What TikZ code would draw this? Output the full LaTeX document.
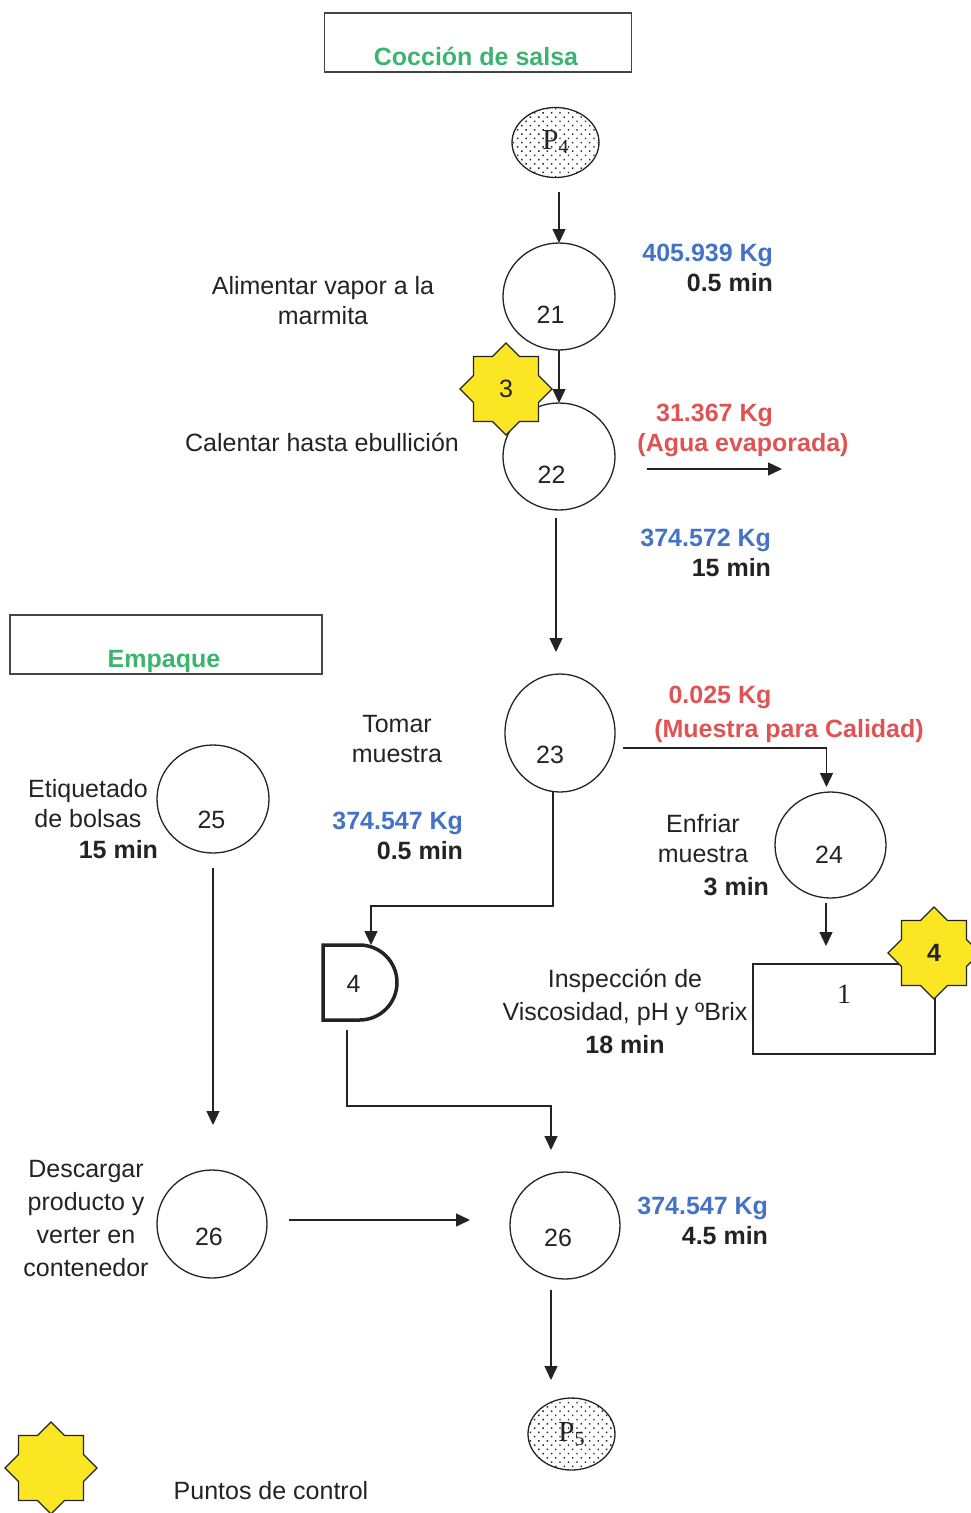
\documentclass[tikz,border=0pt]{standalone}
\usepackage{fontspec}
\setmainfont{Liberation Sans}
\newfontfamily\serifface{Liberation Serif}
\usetikzlibrary{arrows.meta,shapes.geometric,patterns.meta}

\definecolor{ink}{RGB}{35,35,35}
\definecolor{titlegreen}{RGB}{60,180,110}
\definecolor{massblue}{RGB}{68,114,196}
\definecolor{lossred}{RGB}{222,84,84}
\definecolor{ctrlyellow}{RGB}{250,230,35}

\begin{document}
\begin{tikzpicture}[x=1pt,y=-1pt,
  every node/.style={inner sep=0pt, outer sep=0pt, text=ink,
    font=\fontsize{25}{30}\selectfont},
  txt/.style={anchor=base},
  bold/.style={font=\fontsize{25}{30}\selectfont\bfseries},
  block/.style={anchor=north, align=center},
  rblock/.style={anchor=north east, align=right, bold},
  proc/.style={ellipse, draw=ink, line width=1.3pt, minimum width=111pt, minimum height=107pt},
  term/.style={ellipse, draw=ink, line width=1.3pt,
    pattern={Dots[distance=6pt, radius=1pt, angle=45]}, pattern color=ink,
    minimum width=87pt, minimum height=70pt, font=\fontsize{29}{29}\selectfont\serifface},
  frame/.style={rectangle, draw=ink!85, line width=1.3pt, minimum height=59pt},
  title/.style={anchor=base, text=titlegreen, bold},
  ctrl/.style={star, star points=8, star point ratio=1.307, draw=ink, line width=1.3pt,
    fill=ctrlyellow, minimum size=92pt},
  arr/.style={draw=ink, line width=1.4pt, -{Triangle[length=14pt, width=13pt]}},
]
\useasboundingbox (0,0) rectangle (970,1513);

% section frames
\node[frame, minimum width=307pt] (fr1) at (478,42.5) {};
\node[title] (ti1) at (476,65.5) {Cocción de salsa};
\node[frame, minimum width=312pt] (fr2) at (166,644.5) {};
\node[title] (ti2) at (164,667) {Empaque};

% start and end terminals
\node[term] (P4) at (555.5,142.5) {P\raisebox{-4pt}{\fontsize{20}{20}\selectfont 4}};
\node[term, minimum height=72pt] (P5) at (571.5,1434) {P\raisebox{-4pt}{\fontsize{20}{20}\selectfont 5}};

% operations
\node[proc, minimum width=112pt] (c21) at (559,296.5) {};
\node[txt] (n21) at (550.5,323) {21};
\node[proc, minimum width=112pt] (c22) at (559,456.5) {};
\node[txt] (n22) at (551.5,483) {22};
\node[proc, minimum width=110pt, minimum height=118pt] (c23) at (560,733) {};
\node[txt] (n23) at (550,763) {23};
\node[proc, minimum height=106pt] (c24) at (830.5,845) {};
\node[txt] (n24) at (829,863) {24};
\node[proc, minimum width=112pt, minimum height=108pt] (c25) at (213,799) {};
\node[txt] (n25) at (211.5,828) {25};
\node[proc, minimum width=110pt, minimum height=108pt] (c26a) at (212,1224) {};
\node[txt] (n26a) at (209,1245) {26};
\node[proc, minimum width=110pt] (c26b) at (565,1225.5) {};
\node[txt] (n26b) at (558,1246) {26};

% inspection
\node[rectangle, draw=ink, line width=1.3pt, minimum width=182pt, minimum height=90pt] (insp) at (844,1009) {};
\node[txt, font=\fontsize{28}{28}\selectfont\serifface] (n1) at (844,1003) {1};

% storage / delay
\node[minimum width=74pt, minimum height=75pt] (D) at (360,982.5) {};
\draw[ink, line width=3.5pt, line join=miter]
  (D.north west) -- ([xshift=-37.5pt]D.north east)
  arc[start angle=90, end angle=-90, radius=37.5pt] -- (D.south west) -- cycle;
\node[txt] (n4) at (353.5,992) {4};

% descriptions and figures
\node[rblock] (m21) at (773,244.5) {\textcolor{massblue}{405.939 Kg}\\0.5 min};
\node[block] (l21) at (323,276.5) {Alimentar vapor a la\\marmita};
\node[txt] (l22) at (322,451) {Calentar hasta ebullición};
\node[txt, bold, text=lossred] (w22a) at (714.5,421.5) {31.367 Kg};
\node[txt, bold, text=lossred] (w22b) at (743,451.5) {(Agua evaporada)};
\node[rblock] (m22) at (771,529.5) {\textcolor{massblue}{374.572 Kg}\\15 min};
\node[block] (l23) at (397,715.5) {Tomar\\muestra};
\node[txt, bold, text=lossred] (w23a) at (720,703) {0.025 Kg};
\node[txt, bold, text=lossred] (w23b) at (789,737) {(Muestra para Calidad)};
\node[rblock] (m23) at (463,812.5) {\textcolor{massblue}{374.547 Kg}\\0.5 min};
\node[block] (l24) at (703,814.5) {Enfriar\\muestra};
\node[txt, bold, anchor=base east] (t24) at (769,895) {3 min};
\node[block] (l25) at (88,779.5) {Etiquetado\\de bolsas};
\node[txt, bold, anchor=base east] (t25) at (158,858) {15 min};
\node[block, font=\fontsize{25}{33}\selectfont] (lin) at (625,969.5)
  {Inspección de\\Viscosidad, pH y ºBrix\\\textbf{18 min}};
\node[block, font=\fontsize{25}{33}\selectfont] (l26a) at (86,1160.5)
  {Descargar\\producto y\\verter en\\contenedor};
\node[rblock] (m26) at (768,1197.5) {\textcolor{massblue}{374.547 Kg}\\4.5 min};
\node[txt] (leg) at (271,1499) {Puntos de control};

% flow connectors
\draw[arr, shorten <=14.5pt] (P4.south -| c21.north) -- (c21.north);
\draw[arr] (c21.south) -- (c22.north);
\coordinate (vap) at (782,469);
\draw[arr] ([shift={(32,12.5)}]c22.east) -- (vap);
\draw[arr, shorten <=8pt, shorten >=22pt] ([xshift=-3pt]c22.south) -- ([xshift=-3pt]c22.south |- c23.north);
\draw[arr, shorten >=5pt] ([shift={(8,15)}]c23.east) -| ([xshift=-4pt]c24.north);
\draw[arr, shorten <=5pt, shorten >=18pt] ([xshift=-4.5pt]c24.south) -- ([xshift=-4.5pt]c24.south |- insp.north);
\coordinate (j1) at (553,906);
\draw[arr] (c23.south -| j1) -- (j1) -| ([xshift=11pt]D.north);
\coordinate (j2) at (347,1106);
\draw[arr, shorten <=10pt, shorten >=22pt] (D.south -| j2) -- (j2) -| ([xshift=-14pt]c26b.north);
\draw[arr, shorten <=15pt, shorten >=45pt] (c25.south) -- (c25.south |- c26a.north);
\draw[arr, shorten <=22pt, shorten >=40pt] ([yshift=4pt]c26a.east) -- ([yshift=4pt]c26a.east -| c26b.west);
\draw[arr, shorten <=11pt, shorten >=18pt] ([xshift=-14pt]c26b.south) -- ([xshift=-14pt]c26b.south |- P5.north);

% control points
\node[ctrl] (s3) at (506,389) {3};
\node[ctrl, bold] (s4) at (934,953) {4};
\node[ctrl] (sl) at (51,1468) {};
\end{tikzpicture}
\end{document}
